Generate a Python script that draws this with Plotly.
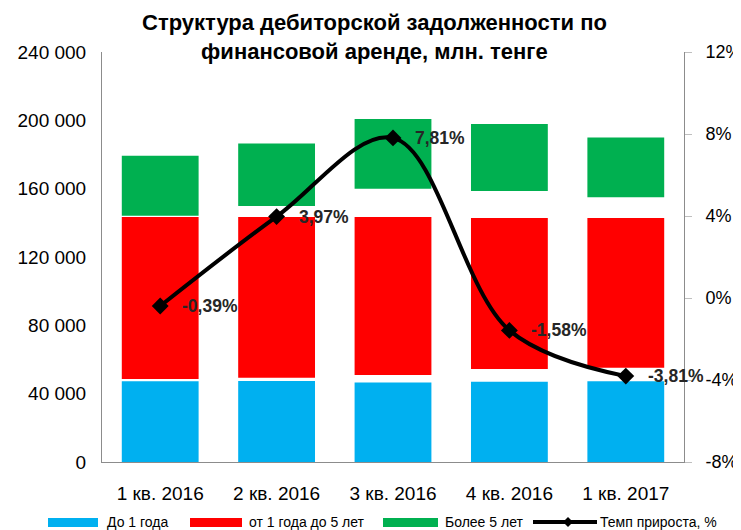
import plotly.graph_objects as go

categories = ["1 кв. 2016", "2 кв. 2016", "3 кв. 2016", "4 кв. 2016", "1 кв. 2017"]

# segment bounds (млн. тенге)
do1_low = [0, 0, 0, 0, 0]
do1_high = [47200, 47400, 46500, 47000, 47200]
ot1do5_low = [48600, 49300, 51000, 54400, 55200]
ot1do5_high = [143400, 143400, 143400, 142900, 142900]
bolee5_low = [144200, 149900, 160000, 158700, 155000]
bolee5_high = [179300, 186400, 200800, 197900, 189900]

temp_prirosta = [-0.39, 3.97, 7.81, -1.58, -3.81]

left_ticks = [0, 40000, 80000, 120000, 160000, 200000, 240000]
right_ticks = [-8, -4, 0, 4, 8, 12]

series_names = ["До 1 года", "от 1 года до 5 лет", "Более 5 лет", "Темп прироста, %"]

BLUE = "#00B0F0"
RED = "#FF0000"
GREEN = "#00B050"
FONT = "Liberation Sans, Arial, sans-serif"

fig = go.Figure()

def seg(low, high, color, name):
    fig.add_trace(go.Bar(
        x=categories,
        y=[h - l for l, h in zip(low, high)],
        base=low,
        marker=dict(color=color, line=dict(width=0)),
        name=name,
        hoverinfo="skip",
    ))

seg(do1_low, do1_high, BLUE, series_names[0])
seg(ot1do5_low, ot1do5_high, RED, series_names[1])
seg(bolee5_low, bolee5_high, GREEN, series_names[2])

fig.add_trace(go.Scatter(
    x=categories, y=temp_prirosta, yaxis="y2",
    mode="lines+markers",
    line=dict(color="black", width=4, shape="spline", smoothing=1.0),
    marker=dict(symbol="diamond", size=13, color="black"),
    name=series_names[3],
))

for c, v in zip(categories, temp_prirosta):
    fig.add_annotation(
        x=c, y=v, yref="y2", xref="x",
        text=f"{v:.2f}%".replace(".", ","),
        showarrow=False, xanchor="left", yanchor="middle", xshift=20,
        font=dict(family=FONT, size=17.5, color="#262626", weight="bold"),
    )

fig.add_annotation(
    xref="paper", yref="paper", x=0.469, y=1, xanchor="center", yanchor="bottom",
    yshift=-14, showarrow=False,
    text="Структура дебиторской задолженности по<br>финансовой аренде, млн. тенге",
    font=dict(family=FONT, size=22, color="black", weight="bold"),
)

# ---- hand-drawn single-row legend below the chart (paper coordinates) ----
PLOT_W, PLOT_H = 582, 410          # plot area size in px
def px(dx):  # horizontal pixel offset from plot left -> paper fraction
    return dx / PLOT_W
def py(dy):  # vertical pixel offset below plot bottom -> paper fraction
    return -dy / PLOT_H

leg_y0, leg_y1, leg_yc = py(56), py(65), py(60)
swatches = [(-54, -4, BLUE), (88, 140, RED), (281, 336, GREEN)]
text_x = [3, 145, 341, 496]
for (a, b, col) in swatches:
    fig.add_shape(type="rect", xref="paper", yref="paper",
                  x0=px(a), x1=px(b), y0=leg_y0, y1=leg_y1,
                  fillcolor=col, line=dict(width=0))
fig.add_shape(type="line", xref="paper", yref="paper",
              x0=px(431), x1=px(495), y0=leg_yc, y1=leg_yc,
              line=dict(color="black", width=4))
dcx, dh = 466, 5
fig.add_shape(type="path", xref="paper", yref="paper",
              path=f"M {px(dcx - dh)} {leg_yc} L {px(dcx)} {py(60 - dh)} "
                   f"L {px(dcx + dh)} {leg_yc} L {px(dcx)} {py(60 + dh)} Z",
              fillcolor="black", line=dict(width=0))
for name, tx in zip(series_names, text_x):
    fig.add_annotation(xref="paper", yref="paper", x=px(tx), y=leg_yc,
                       xanchor="left", yanchor="middle", showarrow=False,
                       text=name, font=dict(family=FONT, size=14, color="black"))

# page body has an 8px margin: shrink the figure so the plot lands where the reference has it
fig.update_layout(
    width=733, height=522,
    margin=dict(l=94, r=57, t=44, b=68, autoexpand=False),
    paper_bgcolor="white", plot_bgcolor="white",
    barmode="overlay", bargap=0.34,
    separators=", ",
    showlegend=False,
    font=dict(family=FONT, size=18, color="black"),
    xaxis=dict(
        range=[-0.5, len(categories) - 0.5],
        showline=True, linecolor="#8c8c8c", linewidth=1,
        ticks="", ticklabelstandoff=14,
        tickfont=dict(size=19), showgrid=False,
    ),
    yaxis=dict(
        range=[0, 240000], tickvals=left_ticks, tickformat=",d",
        showline=True, linecolor="#8c8c8c", linewidth=1,
        showgrid=False, zeroline=False, ticks="", ticklabelstandoff=11,
        tickfont=dict(size=19),
    ),
    yaxis2=dict(
        range=[-8, 12], tickvals=right_ticks,
        ticktext=[f"{v}%" for v in right_ticks],
        overlaying="y", side="right",
        showline=True, linecolor="#8c8c8c", linewidth=1,
        ticks="outside", ticklen=7, tickcolor="#bfbfbf",
        showgrid=False, zeroline=False, ticklabelstandoff=10,
        tickfont=dict(size=18),
    ),
)

fig.write_html("out.html")
